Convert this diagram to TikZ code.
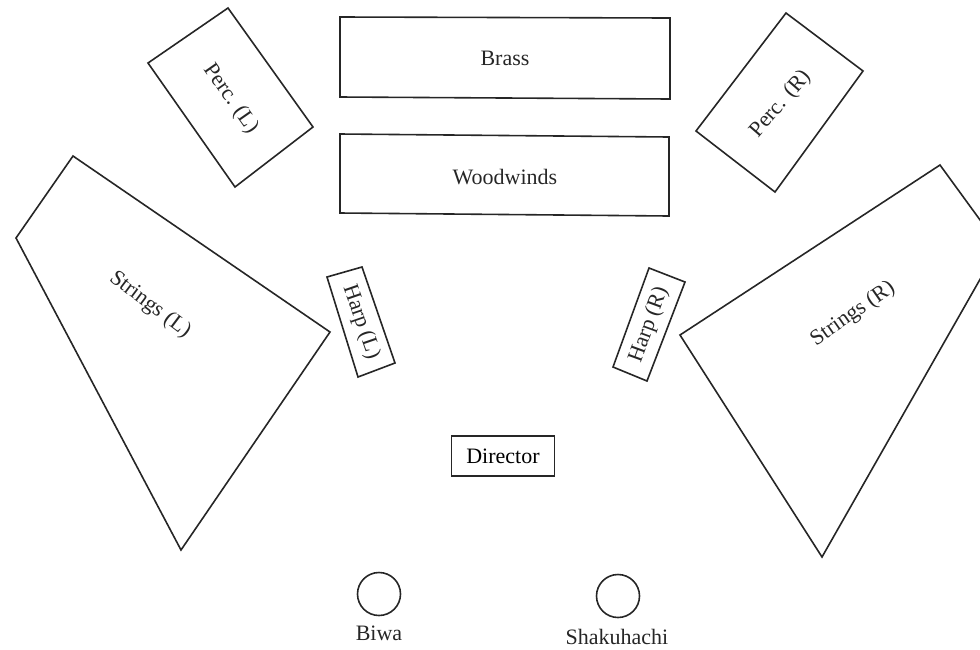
\documentclass[tikz,border=0pt]{standalone}
\usepackage{fontspec}
\setmainfont{Liberation Serif}
\begin{document}
\begin{tikzpicture}[x=1pt,y=-1pt,
  shape line/.style={draw=black!85,line width=1.6pt,line join=miter},
  lbl/.style={font=\fontsize{22}{26}\selectfont,text=black!85,inner sep=0pt},
  seat/.style={circle,draw=black!85,line width=1.6pt,minimum size=43pt,inner sep=0pt}]
\useasboundingbox (0,0) rectangle (980,649);
\clip (0,0) rectangle (980,649);
% Brass and Woodwinds
\draw[shape line] (340,17) -- (670,18) -- (670,99) -- (340,97) -- cycle;
\node[lbl] (brass) at (505,58) {Brass};
\draw[shape line] (340,134) -- (669,137) -- (669,216) -- (340,213) -- cycle;
\node[lbl] (woodwinds) at (505,177) {Woodwinds};
% Percussion
\draw[shape line] (228,8) -- (313,127) -- (235,187) -- (148,63) -- cycle;
\node[lbl,rotate=-55] (percL) at (231,99) {Perc. (L)};
\draw[shape line] (786,13) -- (863,71) -- (775,192) -- (696,131) -- cycle;
\node[lbl,rotate=49] (percR) at (781,104) {Perc. (R)};
% Strings
\draw[shape line] (73,156) -- (330,332) -- (181,550) -- (16,238) -- cycle;
\node[lbl,rotate=-37] (stringsL) at (150,305) {Strings (L)};
\draw[shape line] (940,165) -- (999,246) -- (822,557) -- (680,335) -- cycle;
\node[lbl,rotate=35] (stringsR) at (853,314) {Strings (R)};
% Harps
\draw[shape line] (327,277) -- (362,267) -- (395,363) -- (358,377) -- cycle;
\node[lbl,rotate=-71] (harpL) at (361,322) {Harp (L)};
\draw[shape line] (649,268) -- (685,282) -- (647,381) -- (613,367) -- cycle;
\node[lbl,rotate=70] (harpR) at (649,325) {Harp (R)};
% Director
\node[draw=black!85,line width=1.6pt,minimum width=103pt,minimum height=40pt,inner sep=0pt,font=\fontsize{22}{26}\selectfont] (director) at (503,456) {Director};
% Soloists
\node[seat] (biwa) at (379,594) {};
\node[lbl] (biwaL) at (379,633) {Biwa};
\node[seat] (shaku) at (618,596) {};
\node[lbl] (shakuL) at (617,637) {Shakuhachi};
\end{tikzpicture}
\end{document}
